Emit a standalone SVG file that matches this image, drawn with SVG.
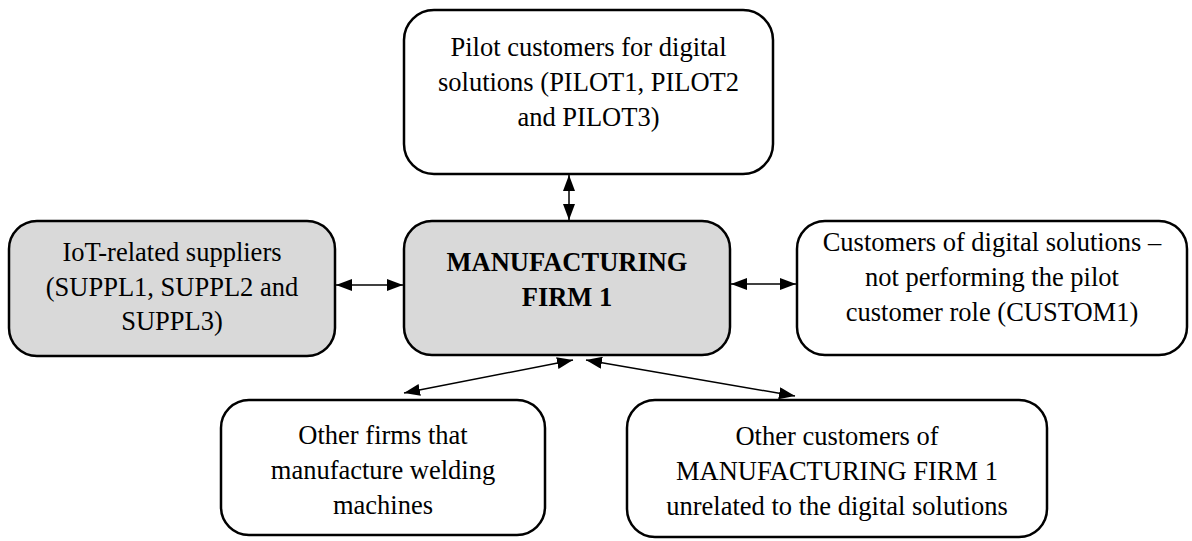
<svg xmlns="http://www.w3.org/2000/svg" width="1192" height="541" viewBox="0 0 1192 541" font-family="'Liberation Serif', 'DejaVu Serif', serif">
<defs>
<style>
.box{stroke:#000;stroke-width:2.5;fill:#fff}
.gray{fill:#d9d9d9}
text{font-family:'Liberation Serif','Times New Roman','DejaVu Serif',serif;font-size:26.5px;text-anchor:middle;fill:#000}
.b{font-weight:bold}
.con{stroke:#000;stroke-width:1.5;fill:none;marker-start:url(#ah);marker-end:url(#ah)}
</style>
<marker id="ah" markerUnits="userSpaceOnUse" markerWidth="16" markerHeight="12" refX="16" refY="6" orient="auto-start-reverse" viewBox="0 0 16 12">
<path d="M0,0 L16,6 L0,12 z" fill="#000"/>
</marker>
</defs>
<rect width="1192" height="541" fill="#fff"/>
<g id="connectors">
<line class="con" x1="569" y1="175" x2="569" y2="220"/>
<line class="con" x1="336" y1="285" x2="403" y2="285"/>
<line class="con" x1="731" y1="284" x2="796" y2="284"/>
<line class="con" x1="404" y1="393" x2="573" y2="360"/>
<line class="con" x1="586" y1="360" x2="795" y2="396"/>
</g>
<g id="pilot">
<rect class="box" x="404" y="10" width="369" height="164" rx="30"/>
<text x="588.5" y="56">Pilot customers for digital</text>
<text x="588.5" y="91">solutions (PILOT1, PILOT2</text>
<text x="588.5" y="126">and PILOT3)</text>
</g>
<g id="suppliers">
<rect class="box gray" x="9" y="221" width="326" height="135" rx="28"/>
<text x="172" y="261">IoT-related suppliers</text>
<text x="172" y="296">(SUPPL1, SUPPL2 and</text>
<text x="172" y="330">SUPPL3)</text>
</g>
<g id="firm">
<rect class="box gray" x="404" y="221" width="326" height="134" rx="28"/>
<text class="b" x="567" y="271">MANUFACTURING</text>
<text class="b" x="567" y="306">FIRM 1</text>
</g>
<g id="custom">
<rect class="box" x="797" y="221" width="390" height="134" rx="28"/>
<text x="992" y="251">Customers of digital solutions –</text>
<text x="992" y="286">not performing the pilot</text>
<text x="992" y="321">customer role (CUSTOM1)</text>
</g>
<g id="others">
<rect class="box" x="221" y="400" width="324" height="135" rx="28"/>
<text x="383" y="444">Other firms that</text>
<text x="383" y="479">manufacture welding</text>
<text x="383" y="514">machines</text>
</g>
<g id="othercust">
<rect class="box" x="627" y="400" width="420" height="137" rx="28"/>
<text x="837" y="445">Other customers of</text>
<text x="837" y="480">MANUFACTURING FIRM 1</text>
<text x="837" y="515">unrelated to the digital solutions</text>
</g>
</svg>
